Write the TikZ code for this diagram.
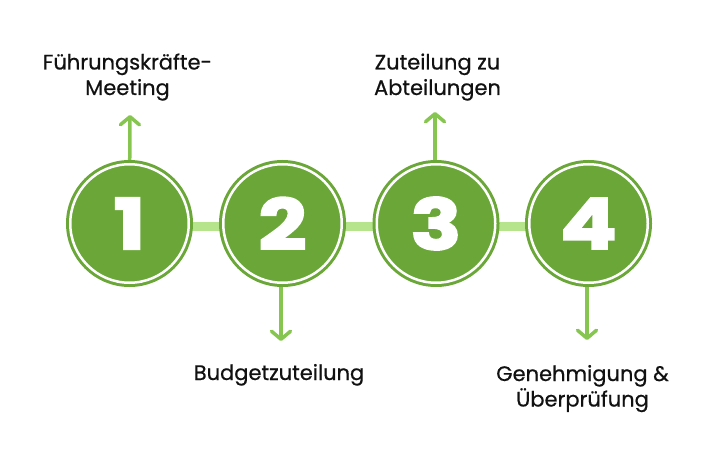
\documentclass[tikz,border=0pt]{standalone}
\usepackage{fontspec}
\setmainfont{Poppins}[FakeBold=0.6]
\newfontfamily\numfont[FakeBold=3,FakeStretch=1.2]{Poppins}
\usetikzlibrary{arrows.meta}
\definecolor{circgreen}{RGB}{106,167,56}
\definecolor{bargreen}{RGB}{182,228,140}
\definecolor{arrowgreen}{RGB}{134,198,80}
\definecolor{txt}{RGB}{17,17,17}
\tikzset{
  stepcirc/.style={circle, inner sep=0pt, minimum size=118.5pt, fill=circgreen,
    draw=circgreen, line width=3pt, double=white, double distance=2.5pt,
    font=\numfont\bfseries\fontsize{70}{70}\selectfont, text=white},
  bar/.style={draw=bargreen, line width=8.5pt},
  arr/.style={draw=arrowgreen, line width=3.5pt, line cap=round,
    -{Straight Barb[length=8pt,width=19pt,line cap=round,line join=round]}},
  lbl/.style={font=\fontsize{21}{25.5}\selectfont, text=txt, align=center, inner sep=0pt, anchor=base}
}
\begin{document}
\begin{tikzpicture}[x=1pt,y=-1pt]
\useasboundingbox (0,0) rectangle (701,465);
\coordinate (p1) at (129.5,223.5);
\coordinate (p2) at (282.5,223.5);
\coordinate (p3) at (436,223.5);
\coordinate (p4) at (588.5,223.5);
% bars
\draw[bar] ([yshift=-3pt]p1) -- ([yshift=-3pt]p2);
\draw[bar] ([yshift=-3pt]p2) -- ([yshift=-3pt]p3);
\draw[bar] ([yshift=-3pt]p3) -- ([yshift=-3pt]p4);
% arrow ends
\coordinate (e1) at (130,115);
\coordinate (e2) at (281,341);
\coordinate (e3) at (435,112);
\coordinate (e4) at (587,340);
\draw[arr] (p1 |- 0,200) -- (e1);
\draw[arr] (e2 |- 0,250) -- (e2);
\draw[arr] (e3 |- 0,200) -- (e3);
\draw[arr] (e4 |- 0,250) -- (e4);
% circles
\node[stepcirc] (c1) at (p1) {1};
\node[stepcirc] (c2) at (p2) {2};
\node[stepcirc] (c3) at (p3) {3};
\node[stepcirc] (c4) at (p4) {4};
% labels
\node[lbl] (l1) at (127.5,95) {Führungskräfte-\\Meeting};
\node[lbl] (l2) at (279,380) {Budgetzuteilung};
\node[lbl] (l3) at (437.5,95) {Zuteilung zu\\Abteilungen};
\node[lbl] (l4) at (582.5,406.5) {Genehmigung \&\\Überprüfung};
\end{tikzpicture}
\end{document}
